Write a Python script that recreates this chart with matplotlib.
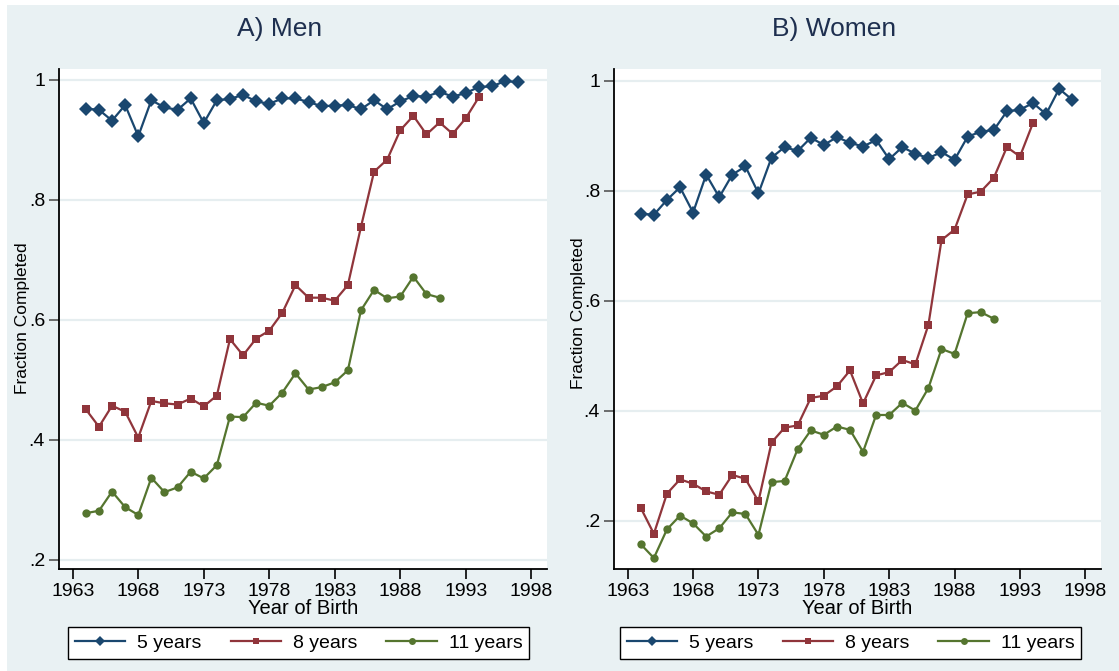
import matplotlib
matplotlib.use("Agg")
import matplotlib.pyplot as plt
from matplotlib.patches import Rectangle

'''Data read off the figure'''

years_5 = list(range(1964, 1998))
years_8 = list(range(1964, 1995))
years_11 = list(range(1964, 1992))

men_5 = [.952, .950, .932, .958, .906, .966, .954, .950, .969, .928,
         .966, .968, .975, .964, .960, .969, .969, .963, .956, .957,
         .958, .951, .966, .951, .964, .973, .972, .980, .972, .978,
         .988, .989, .998, .996]
men_8 = [.451, .422, .457, .447, .404, .465, .461, .459, .469, .456,
         .474, .568, .541, .569, .582, .612, .658, .637, .637, .632,
         .658, .755, .847, .867, .916, .940, .909, .929, .910, .936,
         .971]
men_11 = [.278, .282, .314, .288, .275, .337, .313, .321, .347, .336,
          .358, .439, .438, .462, .457, .479, .511, .484, .488, .496,
          .516, .616, .650, .636, .639, .672, .643, .637]

women_5 = [.758, .756, .783, .806, .760, .829, .788, .829, .844, .795,
           .860, .879, .872, .896, .883, .897, .887, .880, .892, .857,
           .879, .867, .859, .870, .856, .898, .907, .910, .944, .947,
           .959, .939, .985, .965]
women_8 = [.223, .176, .249, .275, .267, .253, .247, .283, .276, .235,
           .342, .369, .373, .423, .427, .444, .473, .413, .464, .470,
           .492, .484, .556, .710, .729, .793, .798, .823, .879, .862,
           .923]
women_11 = [.157, .132, .184, .209, .195, .171, .186, .215, .212, .174,
            .270, .272, .330, .364, .356, .371, .365, .325, .392, .392,
            .414, .400, .441, .512, .503, .577, .579, .567]

xticks = [1963, 1968, 1973, 1978, 1983, 1988, 1993, 1998]
yticks = [.2, .4, .6, .8, 1]
ytick_labels = [".2", ".4", ".6", ".8", "1"]
series_labels = ["5 years", "8 years", "11 years"]

'''Style'''

W, H = 1119, 671
bg = "#e9f1f3"
grid_col = "#e6eef0"
colors = ["#1a476f", "#90353b", "#55752f"]
markers = ["D", "s", "o"]
msizes = [7.5, 6.3, 6.0]

plt.rcParams['font.family'] = ['Liberation Sans', 'DejaVu Sans']

fig = plt.figure(figsize=(W / 100, H / 100), dpi=100)
fig.patch.set_facecolor("white")
fig.patches.append(Rectangle((7 / W, 0), 1 - 7 / W, 1 - 5 / H,
                             transform=fig.transFigure, facecolor=bg,
                             edgecolor="none", zorder=-10))


def px_axes(x0, y0, x1, y1):
    # pixel box (top-left origin) -> figure fraction axes
    return fig.add_axes([x0 / W, 1 - y1 / H, (x1 - x0) / W, (y1 - y0) / H])


def draw_panel(ax, data, ylim, title, title_x, ylab_x, ylab_y, legend_xy):
    years = [years_5, years_8, years_11]
    handles = []
    for yrs, vals, c, m, ms, lab in zip(years, data, colors, markers, msizes, series_labels):
        h, = ax.plot(yrs, vals, color=c, marker=m, markersize=ms, linewidth=1.6,
                     markeredgewidth=0, label=lab, zorder=3)
        handles.append(h)
    ax.set_xlim(1961.95, 1999.2)
    ax.set_ylim(*ylim)
    ax.set_xticks(xticks)
    ax.set_yticks(yticks)
    ax.set_yticklabels(ytick_labels)
    ax.tick_params(axis='both', direction='out', length=7, width=1.2,
                   labelsize=14, pad=3)
    ax.tick_params(axis='y', color="#555555")
    for s in ["top", "right"]:
        ax.spines[s].set_visible(False)
    for s in ["left", "bottom"]:
        ax.spines[s].set_linewidth(1.3)
    ax.grid(axis='y', color=grid_col, linewidth=1.6, zorder=0)
    ax.set_axisbelow(True)
    ax.set_xlabel("Year of Birth", fontsize=14.5, labelpad=-1)
    fig.text(title_x / W, 1 - 29 / H, title, ha='center', va='center',
             fontsize=19, color="#1e2f4f")
    fig.text(ylab_x / W, 1 - ylab_y / H, "Fraction Completed", rotation=90,
             ha='center', va='center', fontsize=12.5)
    lx, ly = legend_xy
    leg = fig.legend(handles, series_labels, ncol=3,
                     bbox_to_anchor=(lx / W, 1 - ly / H),
                     loc='center left', fontsize=14, handlelength=2.6,
                     fancybox=False, framealpha=1, edgecolor='black',
                     borderpad=0.35, handletextpad=0.6, columnspacing=1.5,
                     borderaxespad=0)
    leg.get_frame().set_linewidth(1.0)
    for lh in leg.legend_handles:
        lh.set_markersize(5)


axA = px_axes(59, 69, 547, 569)
draw_panel(axA, [men_5, men_8, men_11], (0.185, 1.018), "A) Men", 280, 23, 318,
           (68, 643))

axB = px_axes(614, 69, 1101, 569)
draw_panel(axB, [women_5, women_8, women_11], (0.112, 1.021), "B) Women", 834, 578, 313,
           (620, 643))

fig.savefig("out.png", dpi=100)
